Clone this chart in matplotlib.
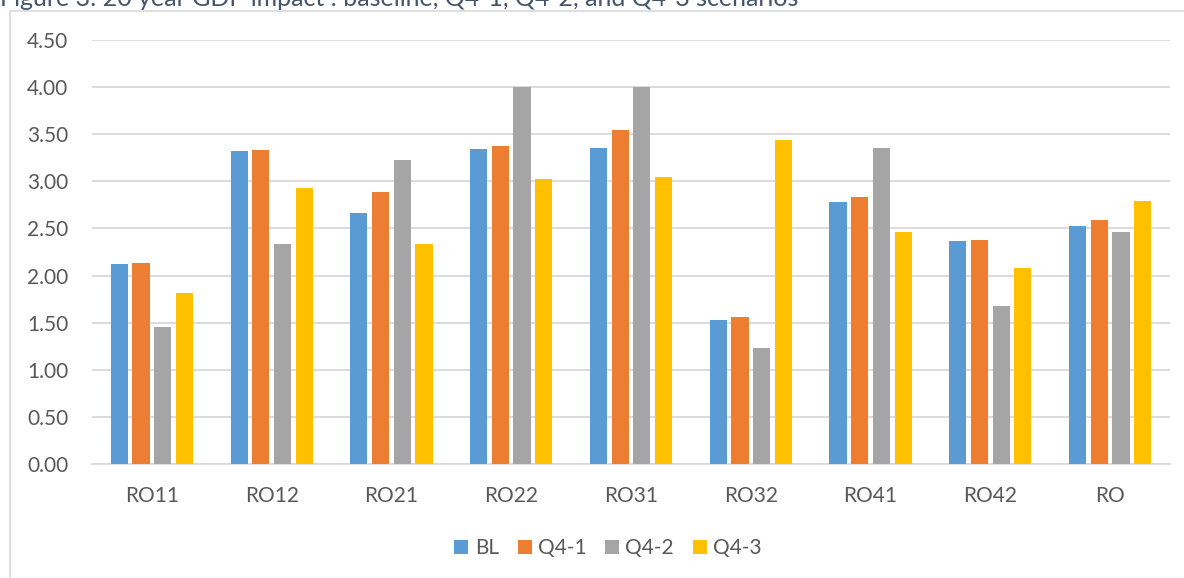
import numpy as np
import matplotlib.pyplot as plt
from matplotlib.patches import Rectangle

regions = ['RO11', 'RO12', 'RO21', 'RO22', 'RO31', 'RO32', 'RO41', 'RO42', 'RO']
bl   = [2.12, 3.32, 2.66, 3.34, 3.35, 1.53, 2.78, 2.37, 2.53]
q4_1 = [2.13, 3.33, 2.89, 3.38, 3.54, 1.56, 2.83, 2.38, 2.59]
q4_2 = [1.45, 2.34, 3.23, 4.00, 4.00, 1.23, 3.35, 1.68, 2.46]
q4_3 = [1.82, 2.93, 2.33, 3.02, 3.05, 3.44, 2.46, 2.08, 2.79]
series_names = ['BL', 'Q4-1', 'Q4-2', 'Q4-3']
colors = ['#5B9BD5', '#ED7D31', '#A5A5A5', '#FFC000']

plt.rcParams['font.family'] = ['Lato', 'DejaVu Sans']
txt = '#595959'
grid = '#d9d9d9'

fig = plt.figure(figsize=(11.84, 5.78), dpi=100)

# outer chart frame (cut at right/bottom like the screenshot)
fig.patches.append(Rectangle((10 / 1184, -0.05), 1.2, 1 - 10.5 / 578 + 0.05,
                             transform=fig.transFigure, fill=False,
                             edgecolor=grid, linewidth=1.2))

# caption partly cut off at the top
fig.text(0.0, 1 - 6.5 / 578, 'Figure 3: 20 year GDP impact : baseline, Q4-1, Q4-2, and Q4-3 scenarios',
         fontsize=18, color='#44546A', ha='left', va='baseline')

ax = fig.add_axes([92 / 1184, 1 - 464 / 578, (1170 - 92) / 1184, (464 - 40) / 578])

x = np.arange(len(regions))
pitch = 0.181
width = 0.143
data = [bl, q4_1, q4_2, q4_3]
for i, (name, vals, c) in enumerate(zip(series_names, data, colors)):
    ax.bar(x + (i - 1.5) * pitch, vals, width, color=c, label=name, zorder=3)

ax.set_xlim(-0.5, len(regions) - 0.5)
ax.set_ylim(0, 4.5)
ax.set_yticks(np.arange(0, 4.51, 0.5))
ax.set_yticklabels(['%.2f' % v for v in np.arange(0, 4.51, 0.5)])
ax.set_xticks(x)
ax.set_xticklabels(regions)
ax.tick_params(axis='both', length=0, labelsize=15, colors=txt)
ax.tick_params(axis='y', pad=17)
ax.tick_params(axis='x', pad=16)
ax.yaxis.grid(True, color=grid, linewidth=1.3, zorder=0)
for s in ['top', 'right', 'left']:
    ax.spines[s].set_visible(False)
ax.spines['bottom'].set_color(grid)
ax.spines['bottom'].set_linewidth(1.3)

ax.legend(loc='center', bbox_to_anchor=(608 / 1184, 1 - 548 / 578),
          bbox_transform=fig.transFigure, ncol=4, frameon=False,
          fontsize=15, labelcolor=txt, handlelength=0.67, handleheight=0.67,
          handletextpad=0.3, columnspacing=0.9)

fig.savefig('out.png', dpi=100)
